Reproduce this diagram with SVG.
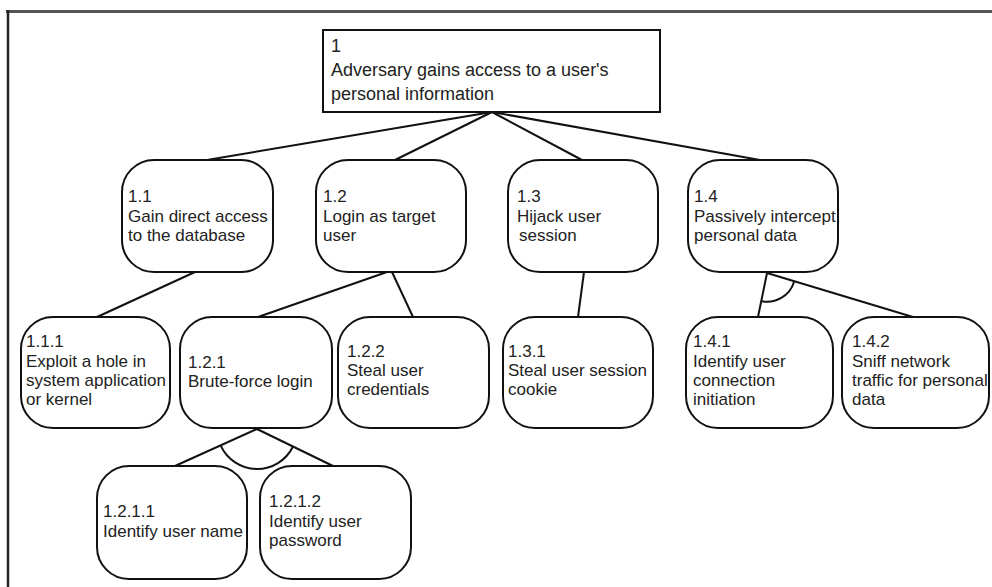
<svg xmlns="http://www.w3.org/2000/svg" width="992" height="587" viewBox="0 0 992 587">
<style>
.node{fill:#fff;stroke:#111;stroke-width:2}
.t{font-family:"Liberation Sans",Arial,sans-serif;font-size:17px;fill:#222}
.rt{font-family:"Liberation Sans",Arial,sans-serif;font-size:18px;fill:#222}
.c{stroke:#111;stroke-width:2;fill:none}
</style>
<rect x="0" y="0" width="992" height="587" fill="#fff"/>
<line x1="6" y1="11.5" x2="992" y2="11.5" stroke="#555" stroke-width="3"/>
<line x1="8" y1="10" x2="8" y2="587" stroke="#222" stroke-width="2.5"/>
<g id="connectors">
<line class="c" x1="492" y1="112" x2="207" y2="160"/>
<line class="c" x1="492" y1="112" x2="395" y2="160"/>
<line class="c" x1="492" y1="112" x2="582" y2="160"/>
<line class="c" x1="492" y1="112" x2="760" y2="160"/>
<line class="c" x1="195" y1="272" x2="97" y2="317"/>
<line class="c" x1="387" y1="272" x2="258" y2="317"/>
<line class="c" x1="392" y1="272" x2="413" y2="317"/>
<line class="c" x1="584" y1="272" x2="578" y2="317"/>
<line class="c" x1="767" y1="273" x2="758" y2="317"/>
<line class="c" x1="767" y1="273" x2="913" y2="317"/>
<path class="c" d="M 794 282 A 28 28 0 0 1 761 301"/>
<line class="c" x1="257" y1="429" x2="175" y2="466"/>
<line class="c" x1="257" y1="429" x2="333" y2="466"/>
<path class="c" d="M 293 446.5 A 40 40 0 0 1 220.6 445.4"/>
</g>
<g id="n1">
<rect class="node" x="323" y="30" width="337" height="82"/>
<text class="rt" x="331"><tspan x="331" y="52">1</tspan><tspan x="331" y="76">Adversary gains access to a user's</tspan><tspan x="331" y="100">personal information</tspan></text>
</g>
<g id="n1_1">
<rect class="node" x="122" y="160" width="151" height="112" rx="32"/>
<text class="t"><tspan x="128" y="202">1.1</tspan><tspan x="128" y="222">Gain direct access</tspan><tspan x="128" y="241">to the database</tspan></text>
</g>
<g id="n1_2">
<rect class="node" x="316" y="160" width="150" height="112" rx="32"/>
<text class="t"><tspan x="323" y="202">1.2</tspan><tspan x="323" y="222">Login as target</tspan><tspan x="323" y="241">user</tspan></text>
</g>
<g id="n1_3">
<rect class="node" x="508" y="160" width="150" height="112" rx="32"/>
<text class="t"><tspan x="517" y="202">1.3</tspan><tspan x="517" y="222">Hijack user</tspan><tspan x="519" y="241">session</tspan></text>
</g>
<g id="n1_4">
<rect class="node" x="688" y="160" width="150" height="112" rx="32"/>
<text class="t"><tspan x="694" y="202">1.4</tspan><tspan x="694" y="222">Passively intercept</tspan><tspan x="694" y="241">personal data</tspan></text>
</g>
<g id="n1_1_1">
<rect class="node" x="21" y="317" width="149" height="111" rx="32"/>
<text class="t"><tspan x="26" y="347">1.1.1</tspan><tspan x="26" y="367">Exploit a hole in</tspan><tspan x="26" y="386">system application</tspan><tspan x="26" y="405">or kernel</tspan></text>
</g>
<g id="n1_2_1">
<rect class="node" x="180" y="317" width="152" height="111" rx="32"/>
<text class="t"><tspan x="188" y="368">1.2.1</tspan><tspan x="188" y="387">Brute-force login</tspan></text>
</g>
<g id="n1_2_2">
<rect class="node" x="338" y="317" width="151" height="111" rx="32"/>
<text class="t"><tspan x="347" y="357">1.2.2</tspan><tspan x="347" y="376">Steal user</tspan><tspan x="347" y="395">credentials</tspan></text>
</g>
<g id="n1_3_1">
<rect class="node" x="503" y="317" width="150" height="111" rx="32"/>
<text class="t"><tspan x="508" y="357">1.3.1</tspan><tspan x="508" y="376">Steal user session</tspan><tspan x="508" y="395">cookie</tspan></text>
</g>
<g id="n1_4_1">
<rect class="node" x="686" y="317" width="147" height="111" rx="32"/>
<text class="t"><tspan x="693" y="347">1.4.1</tspan><tspan x="693" y="367">Identify user</tspan><tspan x="693" y="386">connection</tspan><tspan x="693" y="405">initiation</tspan></text>
</g>
<g id="n1_4_2">
<rect class="node" x="842" y="317" width="147" height="111" rx="32"/>
<text class="t"><tspan x="852" y="347">1.4.2</tspan><tspan x="852" y="367">Sniff network</tspan><tspan x="852" y="386">traffic for personal</tspan><tspan x="852" y="405">data</tspan></text>
</g>
<g id="n1_2_1_1">
<rect class="node" x="97" y="466" width="150" height="113" rx="32"/>
<text class="t"><tspan x="103" y="517">1.2.1.1</tspan><tspan x="103" y="537">Identify user name</tspan></text>
</g>
<g id="n1_2_1_2">
<rect class="node" x="260" y="466" width="151" height="113" rx="32"/>
<text class="t"><tspan x="269" y="507">1.2.1.2</tspan><tspan x="269" y="527">Identify user</tspan><tspan x="269" y="546">password</tspan></text>
</g>
</svg>
